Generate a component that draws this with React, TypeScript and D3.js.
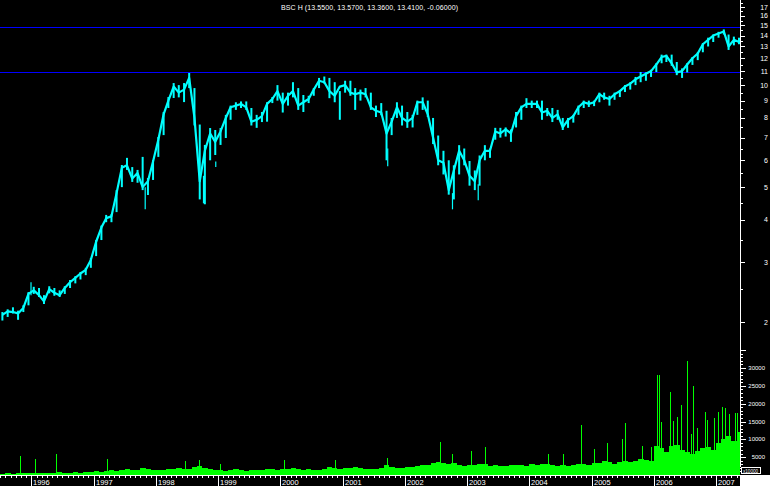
import React from 'react';
import * as d3 from 'd3';

// monthly high / low of BSC H, Jul 1995 .. May 2007
const priceHigh = [
  2.14, 2.18, 2.21, 2.16, 2.24, 2.45,
  2.54, 2.52, 2.40, 2.55, 2.52, 2.48, 2.55, 2.66, 2.73, 2.81, 2.89, 3.09,
  3.49, 3.85, 4.14, 4.16, 4.90, 5.81, 6.10, 5.73, 5.62, 6.14, 5.32, 6.01,
  7.03, 8.33, 9.22, 10.14, 10.0, 10.14, 10.86, 9.8, 7.65, 6.66, 7.47, 7.37,
  7.47, 8.17, 8.7, 8.9, 8.95, 8.95, 8.56, 8.17, 8.33, 8.9, 9.22, 10.0,
  9.5, 9.5, 10.2, 9.8, 9.35, 9.3, 9.8, 10.5, 10.6, 10.5, 10.2, 9.6,
  10.3, 10.3, 9.8, 9.7, 9.8, 9.5, 8.7, 8.85, 8.4, 8.0, 8.9, 8.7,
  8.33, 8.17, 9.0, 9.2, 9.0, 8.0, 7.1, 6.4, 6.0, 5.8, 6.65, 6.5,
  5.97, 5.6, 6.2, 6.65, 6.5, 7.48, 7.48, 7.5, 7.4, 8.33, 8.7, 9.15,
  9.0, 9.0, 9.0, 8.56, 8.56, 8.45, 8.0, 8.0, 8.17, 8.7, 9.0, 9.0,
  9.0, 9.5, 9.5, 9.3, 9.5, 9.67, 10.0, 10.2, 10.57, 10.93, 10.9, 11.1,
  11.6, 12.3, 12.3, 12.3, 11.7, 11.2, 11.6, 12.1, 12.5, 13.3, 13.8, 14.1,
  14.36, 14.6, 14.1, 13.9, 13.8,
];
const priceLow = [
  2.02, 2.07, 2.12, 2.03, 2.14, 2.24,
  2.42, 2.37, 2.26, 2.43, 2.39, 2.37, 2.42, 2.52, 2.60, 2.67, 2.75, 2.89,
  3.13, 3.49, 3.94, 3.94, 4.22, 5.00, 5.62, 5.18, 5.15, 4.90, 4.74, 5.25,
  6.14, 7.12, 8.56, 9.16, 9.2, 8.91, 9.80, 7.6, 4.6, 4.45, 6.0, 6.22,
  6.66, 6.98, 7.9, 8.45, 8.56, 8.45, 7.6, 7.48, 7.78, 7.8, 8.85, 9.0,
  8.3, 8.7, 9.2, 8.45, 8.33, 8.85, 9.3, 9.8, 10.1, 9.15, 8.9, 7.9,
  9.5, 9.3, 8.45, 9.0, 9.2, 8.45, 8.05, 8.15, 6.0, 7.12, 8.0, 7.6,
  7.48, 7.5, 8.17, 8.45, 8.05, 6.7, 5.8, 5.45, 4.75, 4.6, 5.45, 5.8,
  5.05, 4.9, 5.05, 6.0, 6.1, 6.9, 7.0, 7.05, 6.8, 7.5, 7.9, 8.56,
  8.56, 8.56, 7.9, 8.1, 7.78, 7.9, 7.37, 7.48, 7.75, 8.17, 8.56, 8.62,
  8.67, 8.9, 9.05, 8.7, 9.05, 9.22, 9.54, 9.7, 10.0, 10.2, 10.3, 10.57,
  10.93, 11.6, 11.7, 11.4, 10.7, 10.5, 10.9, 11.47, 11.85, 12.5, 13.0, 13.4,
  13.8, 14.1, 12.7, 13.1, 13.2,
];
// monthly close
const priceClose = [
  2.10, 2.15, 2.14, 2.12, 2.20, 2.42,
  2.48, 2.40, 2.30, 2.50, 2.44, 2.40, 2.52, 2.62, 2.70, 2.78, 2.85, 3.05,
  3.45, 3.80, 4.05, 4.10, 4.80, 5.70, 5.80, 5.30, 5.50, 5.00, 5.20, 5.95,
  6.90, 8.20, 9.00, 9.90, 9.50, 9.70, 10.50, 8.00, 5.20, 6.40, 7.20, 6.80,
  7.30, 8.00, 8.60, 8.70, 8.80, 8.60, 7.80, 7.90, 8.10, 8.80, 9.10, 9.60,
  8.80, 9.30, 9.60, 8.70, 8.90, 9.10, 9.70, 10.30, 10.20, 9.60, 9.30, 9.90,
  10.00, 9.50, 9.40, 9.50, 9.40, 8.60, 8.40, 8.30, 7.20, 7.80, 8.60, 8.00,
  7.80, 8.00, 8.90, 8.90, 8.20, 7.00, 6.00, 5.90, 4.90, 5.60, 6.40, 6.00,
  5.40, 5.20, 6.00, 6.40, 6.40, 7.30, 7.20, 7.40, 7.20, 8.10, 8.60, 8.80,
  8.80, 8.80, 8.30, 8.40, 8.00, 8.20, 7.50, 7.90, 8.10, 8.60, 8.90, 8.80,
  8.90, 9.40, 9.20, 9.10, 9.40, 9.60, 9.90, 10.10, 10.40, 10.60, 10.80, 11.00,
  11.50, 12.10, 12.20, 11.60, 10.90, 11.00, 11.50, 12.00, 12.40, 13.20, 13.60, 14.00,
  14.20, 14.40, 13.00, 13.60, 13.41,
];
// single-day wicks: date, high, low
const priceWicks: [string, number, number][] = [
  ['1995-12-30', 2.62, 2.4],
  ['1997-10-30', 5.0, 4.3],
  ['1998-10-07', 5.4, 4.48],
  ['1998-12-18', 5.95, 5.73],
  ['2001-09-22', 6.5, 5.76],
  ['2002-10-07', 4.8, 4.3],
  ['2003-03-07', 5.1, 4.57],
];

// monthly typical volume
const volume = [
  400, 500, 350, 450, 500, 600,
  650, 500, 700, 600, 550, 750, 600, 650, 800, 700, 900, 850,
  1100, 900, 1000, 1300, 1200, 1500, 1700, 1400, 1300, 1900, 1600, 1400,
  1500, 1300, 1600, 1800, 2000, 1600, 1700, 2200, 2400, 2000, 1700, 1500,
  1400, 1200, 1500, 1600, 1300, 1200, 1400, 1500, 1300, 1600, 1700, 1400,
  1600, 1800, 2000, 1700, 1500, 1600, 1400, 1500, 1700, 2200, 2000, 1800,
  2000, 1900, 2300, 2100, 1800, 1700, 1600, 1900, 2700, 2200, 2000, 1900,
  2200, 2300, 2600, 2700, 2900, 3300, 3700, 3300, 3100, 3500, 2900, 2600,
  2800, 2700, 3100, 3000, 2600, 2800, 2500, 2400, 2700, 2900, 2800, 2600,
  3000, 2800, 3200, 3000, 2700, 2500, 2700, 2500, 2800, 3000, 3200, 2900,
  3300, 3500, 3800, 3600, 3200, 3700, 4000, 3600, 3900, 4400, 4200, 4000,
  8000, 7500, 6500, 8000, 8500, 7000, 6500, 6000, 6800, 7500, 7800, 7000,
  9000, 10000, 11000, 9500, 12000,
];
// high-volume days
const volumeSpikes: [string, number][] = [
  ['1995-10-28', 5300], ['1996-01-24', 4500], ['1996-05-27', 5900], ['1997-03-20', 4400],
  ['1998-06-22', 3900], ['1998-09-12', 4200], ['1999-01-14', 3100], ['2000-01-24', 4200],
  ['2000-11-18', 4200], ['2001-09-20', 4900], ['2002-07-26', 9300], ['2002-10-05', 5900],
  ['2003-01-25', 6700], ['2003-04-16', 7900], ['2004-04-20', 5900], ['2004-07-17', 6000],
  ['2004-10-31', 14000], ['2005-01-16', 7300], ['2005-04-02', 9000], ['2005-06-29', 10100],
  ['2005-07-16', 14600], ['2005-10-24', 8100], ['2005-12-16', 7800], ['2006-01-20', 28000],
  ['2006-02-01', 28000], ['2006-02-13', 14800], ['2006-04-06', 23400], ['2006-04-23', 15100],
  ['2006-05-17', 16300], ['2006-06-09', 19600], ['2006-07-14', 32000], ['2006-08-07', 11400],
  ['2006-08-19', 25000], ['2006-09-11', 13100], ['2006-10-28', 17800], ['2006-11-08', 15500],
  ['2006-12-19', 15900], ['2007-01-12', 17600], ['2007-02-05', 19100], ['2007-02-22', 18700],
  ['2007-03-17', 17100], ['2007-04-21', 17300], ['2007-05-03', 17500],
];

const levelLines = [14.85, 10.9];
const priceTicks = [2, 3, 4, 5, 6, 7, 8, 9, 10, 11, 12, 13, 14, 15, 16, 17];
const volumeTicks = [5000, 10000, 15000, 20000, 25000, 30000];
const title = 'BSC H (13.5500, 13.5700, 13.3600, 13.4100, -0.06000)';

export default function App() {
  const font = 'Liberation Sans, Arial, sans-serif';
  const parse = d3.timeParse('%Y-%m-%d');
  const start = new Date(1995, 6, 1);
  const end = new Date(2007, 4, 21);
  const x = d3.scaleTime().domain([start, end]).range([0, 740]);
  const yP = d3.scaleLog().domain([2, 17]).range([322, 7]);
  const yV = d3.scaleLinear().domain([0, 35000]).range([475, 350.2]);

  const months = d3.timeMonth.range(start, d3.timeMonth.offset(start, priceHigh.length));
  const mid = (d: Date) => x(d3.timeDay.offset(d, 14));

  const closeLine = d3.line<Date>()
    .x(d => mid(d))
    .y((_, i) => yP(priceClose[i]));

  const monthTicks = d3.timeMonth.range(start, end);
  const years = d3.timeYear.range(new Date(1996, 0, 1), end);
  const priceMinor = d3.range(2.5, 18, 1);
  const volMinor = d3.range(0, 35001, 1000);

  return (
    <svg width={770} height={486} style={{ position: 'absolute', left: 0, top: 0 }}>
      <rect width={770} height={486} fill="#000" />
      <text x={281} y={9.5} fill="#fff" fontFamily={font} fontSize={7} textLength={177} lengthAdjust="spacing">{title}</text>

      {levelLines.map(v => (
        <line key={v} x1={0} x2={740} y1={Math.round(yP(v)) + 0.5} y2={Math.round(yP(v)) + 0.5} stroke="#0000ff" strokeWidth={1} />
      ))}

      {/* volume */}
      <g shapeRendering="crispEdges" fill="#00ff00">
        {volume.map((v, i) => {
          const m = months[i];
          const x0 = x(m);
          const x1 = Math.min(740, x(d3.timeMonth.offset(m, 1)));
          return <rect key={i} x={x0} width={x1 - x0} y={yV(v)} height={475 - yV(v)} />;
        })}
      </g>
      <g shapeRendering="crispEdges" stroke="#00ff00">
        {volumeSpikes.map(([d, v]) => {
          const xx = Math.round(x(parse(d)!)) + 0.5;
          return <line key={d} x1={xx} x2={xx} y1={475} y2={yV(v)} />;
        })}
      </g>

      {/* price */}
      <path d={closeLine(months) || ''} fill="none" stroke="#00ffff" strokeWidth={2.2} strokeLinejoin="round" />
      <g stroke="#00ffff" strokeWidth={2}>
        {months.map((d, i) => (
          <line key={i} x1={mid(d)} x2={mid(d)} y1={yP(priceHigh[i])} y2={yP(priceLow[i])} />
        ))}
      </g>
      <g stroke="#00ffff" strokeWidth={1.2}>
        {priceWicks.map(([d, hi, lo]) => {
          const xx = x(parse(d)!);
          return <line key={d} x1={xx} x2={xx} y1={yP(hi)} y2={yP(lo)} />;
        })}
      </g>

      {/* right axis */}
      <g stroke="#fff" shapeRendering="crispEdges">
        <line x1={740.5} x2={740.5} y1={0} y2={467} />
        {priceTicks.map(t => <line key={t} x1={740} x2={745} y1={Math.round(yP(t)) + 0.5} y2={Math.round(yP(t)) + 0.5} />)}
        {priceMinor.map(t => <line key={t} x1={740} x2={743} y1={Math.round(yP(t)) + 0.5} y2={Math.round(yP(t)) + 0.5} />)}
        {volMinor.map(t => (
          <line key={t} x1={740} x2={t % 5000 === 0 ? 746 : 743} y1={Math.round(yV(t)) + 0.5} y2={Math.round(yV(t)) + 0.5} />
        ))}
      </g>
      <g fill="#fff" fontFamily={font} textAnchor="end">
        {priceTicks.map(t => <text key={t} x={768} y={yP(t) + 2.5} fontSize={7}>{t}</text>)}
        {volumeTicks.map(t => <text key={t} x={765} y={yV(t) + 2} fontSize={6}>{t}</text>)}
      </g>
      <rect x={741.5} y={467.5} width={19} height={6} fill="#000" stroke="#fff" strokeWidth={1} shapeRendering="crispEdges" />
      <text x={743} y={472.6} fill="#fff" fontFamily={font} fontSize={4.6}>x10000</text>
      <rect x={740} y={475} width={30} height={11} fill="#fff" />

      {/* time axis */}
      <g stroke="#fff" shapeRendering="crispEdges">
        <line x1={0} x2={740} y1={475.5} y2={475.5} />
        {monthTicks.map(d => {
          const xx = Math.round(x(d)) + 0.5;
          return <line key={+d} x1={xx} x2={xx} y1={475} y2={d.getMonth() === 0 ? 486 : 478} />;
        })}
      </g>
      <g fill="#fff" fontFamily={font} fontSize={7.5}>
        {years.map(d => <text key={+d} x={Math.round(x(d)) + 2} y={484.7}>{d.getFullYear()}</text>)}
      </g>
    </svg>
  );
}
